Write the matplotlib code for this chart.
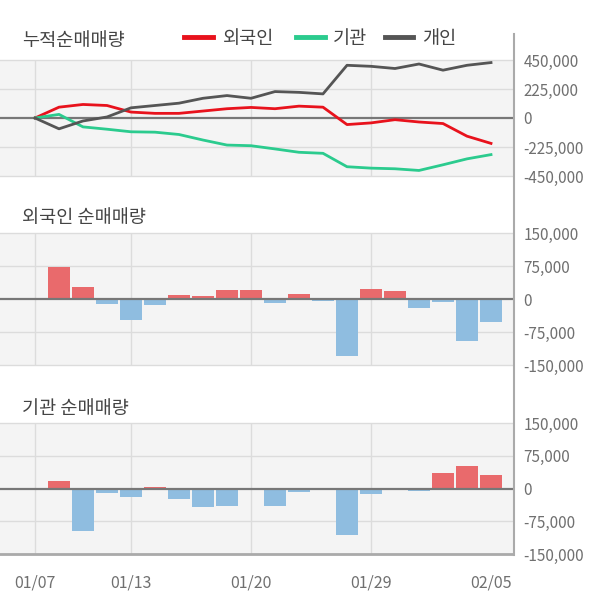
import matplotlib
matplotlib.use("Agg")
import matplotlib.pyplot as plt
from matplotlib.lines import Line2D
import numpy as np

plt.rcParams['font.family'] = ['Noto Sans CJK KR', 'DejaVu Sans']

# ---- data ----
n_days = 20
tick_pos = [0, 4, 9, 14, 19]
tick_labels = ["01/07", "01/13", "01/20", "01/29", "02/05"]

cum_foreign = [0, 84000, 105000, 97000, 46000, 36000, 36000, 54000, 72000, 82000,
               72000, 92000, 84000, -51000, -38000, -13000, -31000, -43000, -141000, -197000]
cum_inst = [0, 28000, -69000, -87000, -107000, -110000, -128000, -171000, -210000, -215000,
            -240000, -266000, -274000, -378000, -389000, -394000, -407000, -363000, -317000, -284000]
cum_indiv = [0, -84000, -23000, 8000, 79000, 97000, 115000, 153000, 174000, 153000,
             205000, 199000, 187000, 409000, 401000, 384000, 419000, 371000, 409000, 430000]

foreign_net = [72000, 27000, -12000, -48000, -14000, 9000, 6500, 20000, 20000, -9500,
               12500, -5000, -130500, 22500, 18000, -21000, -6500, -95000, -52500]
inst_net = [18000, -97500, -9500, -19000, 3500, -23000, -43500, -41000, -4000, -41000,
            -9000, 1000, -106500, -12000, -4000, -6000, 35000, 51000, 31000]

series_names = ["외국인", "기관", "개인"]
series_colors = ["#e8121c", "#2bcb8e", "#555555"]

titles = ["누적순매매량", "외국인 순매매량", "기관 순매매량"]
y_ticks1 = [450000, 225000, 0, -225000, -450000]
y_ticks2 = [150000, 75000, 0, -75000, -150000]

# ---- layout ----
W, H = 600, 604
fig = plt.figure(figsize=(W / 100, H / 100), dpi=100)

def rect(top, bottom, left=0, right=513):
    return [left / W, 1 - bottom / H, (right - left) / W, (bottom - top) / H]

ax1 = fig.add_axes(rect(60, 176))
ax2 = fig.add_axes(rect(233, 365))
ax3 = fig.add_axes(rect(423, 554))

xlim = (-35 / 24, (513 - 35) / 24)
bg = "#f4f4f4"
grid_c = "#dcdcdc"
tick_c = "#707070"

def style(ax, yticks, lim):
    ax.set_facecolor(bg)
    ax.set_xlim(*xlim)
    ax.set_ylim(-lim, lim)
    for s in ax.spines.values():
        s.set_visible(False)
    for t in yticks:
        if t != 0:
            ax.axhline(t, color=grid_c, lw=1, zorder=0, clip_on=False)
    for p in tick_pos[:-1]:
        ax.axvline(p, color=grid_c, lw=1, zorder=0)
    ax.yaxis.tick_right()
    ax.set_yticks(yticks)
    ax.set_yticklabels([f"{t:,}" for t in yticks])
    ax.tick_params(axis='y', length=0, pad=7.5, labelsize=11, labelcolor=tick_c)
    for lab in ax.get_yticklabels():
        lab.set_horizontalalignment('left')
    ax.set_xticks([])

style(ax1, y_ticks1, 450000)
style(ax2, y_ticks2, 150000)
style(ax3, y_ticks2, 150000)

x = np.arange(n_days)
ax1.axhline(0, color="#777777", lw=1.6, zorder=1)
for vals, c in zip([cum_foreign, cum_inst, cum_indiv], series_colors):
    ax1.plot(x, vals, color=c, lw=2.0, zorder=3, solid_joinstyle='round')

xb = np.arange(1, n_days)
red_bar = "#e96a6c"
blue_bar = "#8fbde0"
for ax, vals in [(ax2, foreign_net), (ax3, inst_net)]:
    cols = [red_bar if v >= 0 else blue_bar for v in vals]
    ax.bar(xb, vals, width=0.94, color=cols, zorder=2)
    ax.axhline(0, color="#777777", lw=1.6, zorder=3)

ax3.set_xticks(tick_pos)
ax3.set_xticklabels(tick_labels)
ax3.tick_params(axis='x', length=0, pad=15, labelsize=11.5, labelcolor=tick_c)
ax3.axhline(-150000, color="#aaaaaa", lw=2, zorder=4, clip_on=False)

# right border line
fig.add_artist(Line2D([513.5 / W, 513.5 / W], [1 - 34 / H, 1 - 555 / H],
                      color="#aaaaaa", lw=1.5))

# titles
title_c = "#444444"
fs = 13.4
fig.text(22 / W, 1 - 41 / H, titles[0], fontsize=fs, color=title_c, va='center', ha='left')
fig.text(22 / W, 1 - 218 / H, titles[1], fontsize=fs, color=title_c, va='center', ha='left')
fig.text(22 / W, 1 - 409 / H, titles[2], fontsize=fs, color=title_c, va='center', ha='left')

# legend
leg_items = [(184, 213, 223), (296, 325, 333), (385, 413, 422)]
for (x0, x1, xt), name, c in zip(leg_items, series_names, series_colors):
    fig.add_artist(Line2D([x0 / W, x1 / W], [1 - 37 / H, 1 - 37 / H], color=c, lw=3.5))
    fig.text(xt / W, 1 - 39 / H, name, fontsize=fs, color=title_c, va='center', ha='left')

fig.savefig("out.png", dpi=100, facecolor="white")
